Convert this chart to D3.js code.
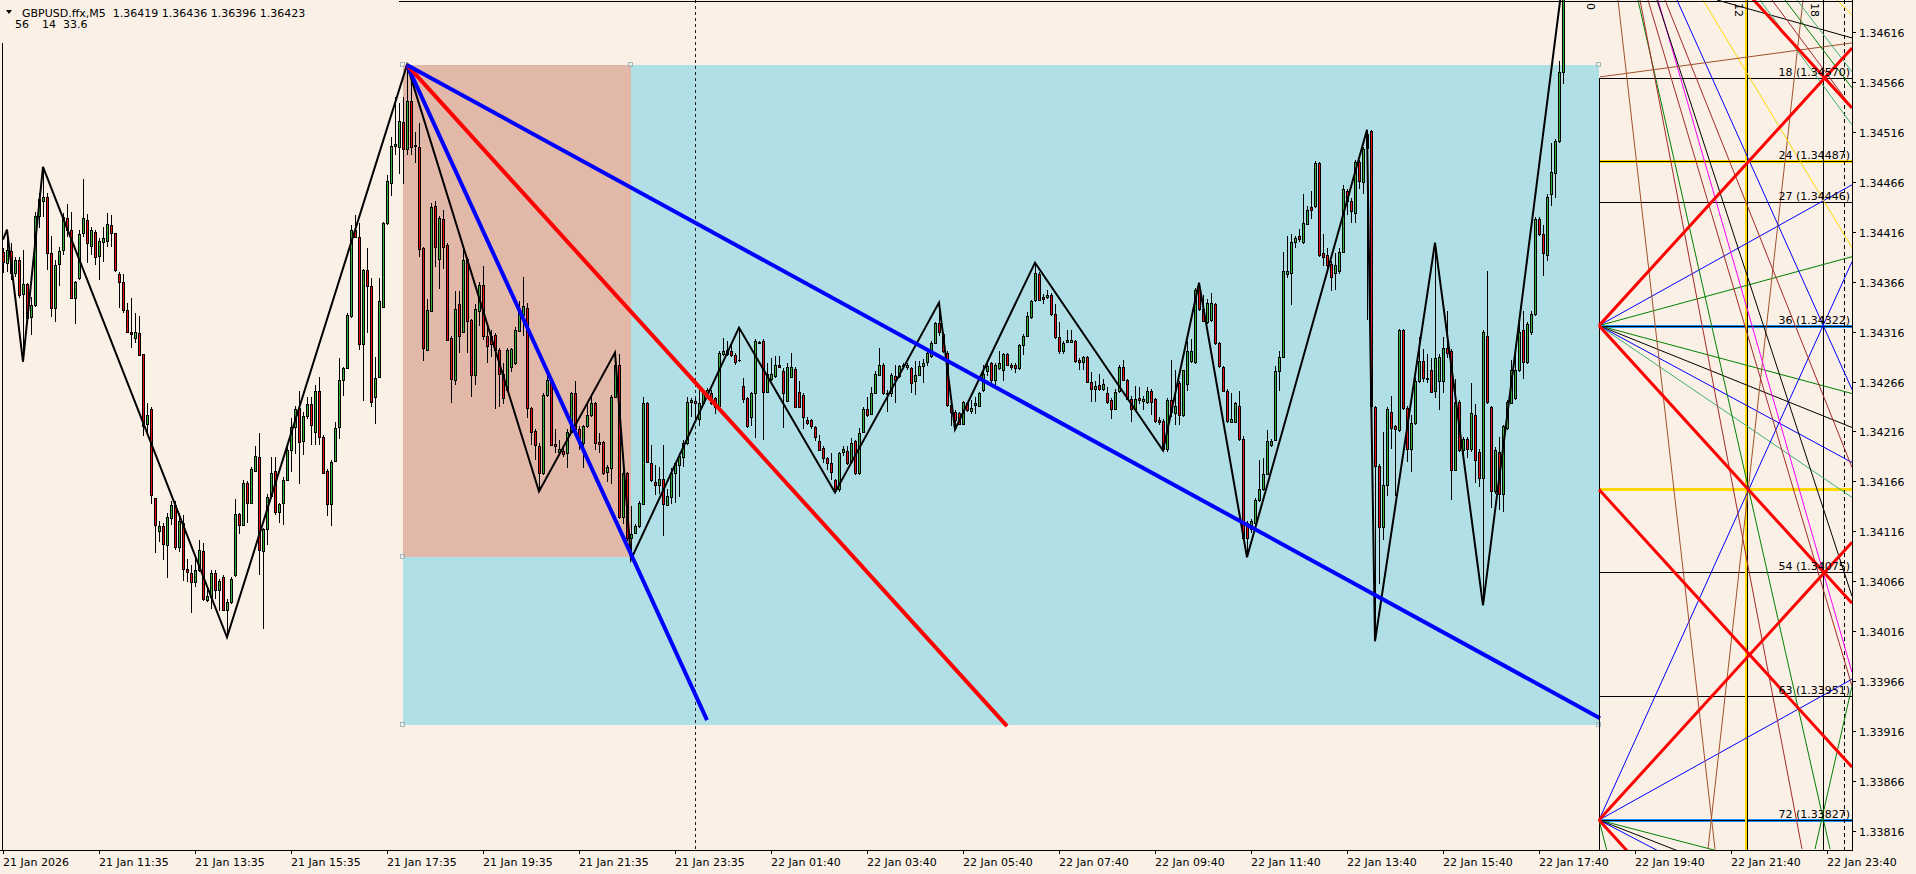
<!DOCTYPE html>
<html><head><meta charset="utf-8">
<script src="https://cdn.jsdelivr.net/npm/d3@7"></script>
<style>html,body{margin:0;padding:0;background:#FAF0E6;overflow:hidden}svg{display:block}</style>
</head><body><svg id="c" width="1916" height="874"></svg>
<script>
// ---------- DATA ----------
const opens=[1.34396,1.34385,1.34397,1.34375,1.34388,1.34354,1.34364,1.34331,1.34343,1.34432,1.34447,1.34451,1.34395,1.34340,1.34384,1.34398,1.34430,1.34418,1.34350,1.34370,1.34415,1.34428,1.34402,1.34416,1.34392,1.34406,1.34407,1.34423,1.34415,1.34374,1.34366,1.34338,1.34316,1.34310,1.34315,1.34294,1.34224,1.34239,1.34149,1.34116,1.34121,1.34102,1.34129,1.34142,1.34100,1.34124,1.34078,1.34074,1.34065,1.34077,1.34096,1.34047,1.34050,1.34074,1.34057,1.34070,1.34037,1.34045,1.34072,1.34133,1.34122,1.34164,1.34144,1.34176,1.34190,1.34096,1.34118,1.34151,1.34176,1.34135,1.34144,1.34167,1.34197,1.34220,1.34240,1.34206,1.34232,1.34244,1.34215,1.34257,1.34210,1.34176,1.34143,1.34186,1.34220,1.34268,1.34280,1.34332,1.34418,1.34411,1.34304,1.34378,1.34362,1.34251,1.34271,1.34341,1.34425,1.34465,1.34502,1.34501,1.34526,1.34499,1.34547,1.34503,1.34501,1.34400,1.34298,1.34337,1.34442,1.34389,1.34429,1.34403,1.34310,1.34268,1.34344,1.34316,1.34389,1.34328,1.34273,1.34337,1.34363,1.34312,1.34312,1.34313,1.34298,1.34274,1.34258,1.34281,1.34285,1.34317,1.34333,1.34340,1.34240,1.34216,1.34201,1.34174,1.34253,1.34268,1.34203,1.34195,1.34196,1.34194,1.34215,1.34255,1.34218,1.34204,1.34221,1.34233,1.34245,1.34205,1.34205,1.34175,1.34179,1.34251,1.34283,1.34130,1.34174,1.34109,1.34114,1.34121,1.34143,1.34245,1.34184,1.34165,1.34162,1.34168,1.34142,1.34150,1.34174,1.34182,1.34190,1.34204,1.34246,1.34247,1.34229,1.34245,1.34251,1.34255,1.34250,1.34242,1.34294,1.34294,1.34297,1.34293,1.34288,1.34262,1.34250,1.34231,1.34255,1.34305,1.34307,1.34256,1.34269,1.34272,1.34283,1.34277,1.34247,1.34271,1.34279,1.34256,1.34253,1.34228,1.34228,1.34220,1.34206,1.34199,1.34189,1.34184,1.34167,1.34158,1.34195,1.34196,1.34185,1.34206,1.34174,1.34215,1.34239,1.34234,1.34255,1.34273,1.34283,1.34255,1.34255,1.34272,1.34272,1.34282,1.34281,1.34280,1.34267,1.34273,1.34282,1.34286,1.34292,1.34305,1.34325,1.34314,1.34295,1.34243,1.34236,1.34235,1.34224,1.34245,1.34237,1.34243,1.34242,1.34258,1.34277,1.34285,1.34268,1.34280,1.34278,1.34294,1.34283,1.34283,1.34280,1.34303,1.34312,1.34331,1.34348,1.34374,1.34351,1.34351,1.34353,1.34334,1.34311,1.34297,1.34306,1.34306,1.34307,1.34288,1.34286,1.34291,1.34266,1.34259,1.34263,1.34259,1.34255,1.34248,1.34239,1.34257,1.34281,1.34268,1.34249,1.34239,1.34250,1.34247,1.34246,1.34257,1.34249,1.34228,1.34227,1.34198,1.34248,1.34235,1.34265,1.34233,1.34264,1.34287,1.34286,1.34360,1.34339,1.34326,1.34328,1.34344,1.34305,1.34281,1.34257,1.34226,1.34226,1.34242,1.34208,1.34124,1.34118,1.34124,1.34147,1.34158,1.34173,1.34202,1.34207,1.34277,1.34291,1.34374,1.34375,1.34406,1.34412,1.34406,1.34424,1.34441,1.34442,1.34485,1.34395,1.34393,1.34384,1.34375,1.34377,1.34396,1.34457,1.34447,1.34435,1.34486,1.34466,1.34500,1.34517,1.34241,1.34181,1.34120,1.34162,1.34236,1.34221,1.34217,1.34318,1.34240,1.34198,1.34225,1.34267,1.34287,1.34270,1.34278,1.34257,1.34267,1.34267,1.34300,1.34297,1.34177,1.34246,1.34197,1.34208,1.34198,1.34233,1.34195,1.34169,1.34312,1.34241,1.34156,1.34195,1.34153,1.34219,1.34245,1.34250,1.34278,1.34318,1.34286,1.34316,1.34334,1.34429,1.34414,1.34393,1.34454,1.34475,1.34507,1.34576];
const highs=[1.34400,1.34418,1.34405,1.34391,1.34391,1.34398,1.34365,1.34351,1.34436,1.34455,1.34481,1.34455,1.34412,1.34388,1.34401,1.34435,1.34444,1.34436,1.34367,1.34418,1.34469,1.34434,1.34421,1.34418,1.34410,1.34421,1.34435,1.34433,1.34415,1.34376,1.34374,1.34345,1.34350,1.34335,1.34332,1.34294,1.34245,1.34241,1.34149,1.34126,1.34124,1.34134,1.34146,1.34146,1.34134,1.34132,1.34088,1.34082,1.34090,1.34107,1.34104,1.34061,1.34077,1.34077,1.34068,1.34072,1.34048,1.34070,1.34148,1.34134,1.34167,1.34166,1.34180,1.34201,1.34214,1.34119,1.34153,1.34190,1.34190,1.34144,1.34170,1.34203,1.34230,1.34242,1.34257,1.34236,1.34251,1.34251,1.34263,1.34271,1.34212,1.34178,1.34187,1.34226,1.34290,1.34281,1.34335,1.34423,1.34433,1.34425,1.34379,1.34400,1.34370,1.34291,1.34370,1.34426,1.34473,1.34511,1.34551,1.34545,1.34551,1.34583,1.34581,1.34516,1.34525,1.34401,1.34349,1.34445,1.34447,1.34432,1.34438,1.34405,1.34312,1.34357,1.34357,1.34400,1.34391,1.34329,1.34344,1.34366,1.34382,1.34325,1.34318,1.34315,1.34300,1.34285,1.34300,1.34300,1.34321,1.34347,1.34371,1.34345,1.34241,1.34218,1.34204,1.34255,1.34275,1.34268,1.34218,1.34207,1.34199,1.34218,1.34256,1.34267,1.34221,1.34223,1.34245,1.34253,1.34246,1.34214,1.34206,1.34182,1.34253,1.34295,1.34294,1.34184,1.34175,1.34141,1.34123,1.34146,1.34251,1.34246,1.34202,1.34182,1.34180,1.34202,1.34158,1.34179,1.34185,1.34194,1.34207,1.34251,1.34250,1.34250,1.34258,1.34258,1.34260,1.34258,1.34251,1.34297,1.34310,1.34307,1.34304,1.34295,1.34320,1.34270,1.34251,1.34256,1.34309,1.34307,1.34309,1.34285,1.34290,1.34292,1.34292,1.34280,1.34285,1.34295,1.34281,1.34267,1.34255,1.34231,1.34229,1.34221,1.34212,1.34201,1.34190,1.34194,1.34168,1.34195,1.34201,1.34201,1.34209,1.34207,1.34219,1.34241,1.34251,1.34261,1.34277,1.34300,1.34285,1.34258,1.34275,1.34283,1.34283,1.34285,1.34285,1.34281,1.34287,1.34287,1.34289,1.34297,1.34307,1.34326,1.34345,1.34316,1.34297,1.34245,1.34238,1.34236,1.34247,1.34246,1.34248,1.34251,1.34256,1.34283,1.34285,1.34286,1.34285,1.34297,1.34295,1.34295,1.34285,1.34285,1.34304,1.34314,1.34336,1.34348,1.34385,1.34376,1.34354,1.34358,1.34355,1.34344,1.34326,1.34307,1.34318,1.34318,1.34308,1.34290,1.34292,1.34292,1.34276,1.34267,1.34274,1.34269,1.34261,1.34250,1.34259,1.34283,1.34288,1.34269,1.34252,1.34262,1.34261,1.34252,1.34261,1.34259,1.34250,1.34231,1.34229,1.34250,1.34288,1.34278,1.34267,1.34278,1.34307,1.34309,1.34360,1.34365,1.34353,1.34349,1.34355,1.34345,1.34306,1.34282,1.34259,1.34255,1.34246,1.34257,1.34211,1.34126,1.34128,1.34149,1.34187,1.34189,1.34217,1.34208,1.34282,1.34297,1.34396,1.34412,1.34414,1.34412,1.34419,1.34454,1.34442,1.34457,1.34487,1.34486,1.34414,1.34400,1.34387,1.34395,1.34400,1.34463,1.34459,1.34450,1.34488,1.34488,1.34501,1.34518,1.34518,1.34242,1.34183,1.34215,1.34241,1.34252,1.34223,1.34319,1.34319,1.34242,1.34233,1.34270,1.34311,1.34299,1.34294,1.34290,1.34405,1.34294,1.34311,1.34337,1.34299,1.34269,1.34248,1.34210,1.34210,1.34265,1.34244,1.34198,1.34318,1.34377,1.34242,1.34200,1.34210,1.34223,1.34248,1.34288,1.34294,1.34324,1.34337,1.34326,1.34337,1.34431,1.34431,1.34423,1.34454,1.34505,1.34509,1.34587,1.34670];
const lows=[1.34375,1.34376,1.34368,1.34371,1.34350,1.34286,1.34325,1.34313,1.34341,1.34420,1.34431,1.34378,1.34331,1.34326,1.34362,1.34393,1.34411,1.34349,1.34324,1.34368,1.34411,1.34385,1.34393,1.34383,1.34368,1.34386,1.34401,1.34401,1.34376,1.34340,1.34335,1.34315,1.34300,1.34305,1.34292,1.34211,1.34213,1.34143,1.34094,1.34105,1.34087,1.34069,1.34122,1.34097,1.34095,1.34066,1.34065,1.34034,1.34060,1.34075,1.34046,1.34045,1.34038,1.34048,1.34036,1.34036,1.34010,1.34043,1.34070,1.34113,1.34121,1.34124,1.34143,1.34176,1.34072,1.34018,1.34102,1.34150,1.34132,1.34124,1.34122,1.34166,1.34175,1.34193,1.34163,1.34192,1.34229,1.34202,1.34202,1.34202,1.34173,1.34131,1.34121,1.34185,1.34208,1.34252,1.34280,1.34330,1.34410,1.34298,1.34247,1.34315,1.34241,1.34224,1.34270,1.34340,1.34423,1.34452,1.34493,1.34474,1.34464,1.34493,1.34493,1.34485,1.34391,1.34287,1.34298,1.34337,1.34381,1.34359,1.34379,1.34307,1.34245,1.34263,1.34295,1.34315,1.34295,1.34251,1.34263,1.34322,1.34308,1.34285,1.34291,1.34239,1.34241,1.34244,1.34256,1.34276,1.34283,1.34316,1.34312,1.34230,1.34202,1.34187,1.34156,1.34172,1.34251,1.34201,1.34194,1.34194,1.34190,1.34179,1.34214,1.34215,1.34197,1.34179,1.34219,1.34231,1.34197,1.34194,1.34172,1.34165,1.34163,1.34250,1.34128,1.34123,1.34106,1.34088,1.34113,1.34119,1.34142,1.34184,1.34165,1.34152,1.34153,1.34111,1.34141,1.34143,1.34144,1.34150,1.34180,1.34202,1.34231,1.34229,1.34221,1.34243,1.34250,1.34243,1.34234,1.34241,1.34292,1.34292,1.34291,1.34283,1.34286,1.34245,1.34219,1.34221,1.34209,1.34304,1.34207,1.34255,1.34267,1.34270,1.34280,1.34219,1.34246,1.34270,1.34240,1.34240,1.34218,1.34223,1.34218,1.34206,1.34196,1.34184,1.34177,1.34167,1.34155,1.34155,1.34191,1.34182,1.34184,1.34172,1.34172,1.34214,1.34231,1.34233,1.34254,1.34272,1.34253,1.34236,1.34251,1.34245,1.34270,1.34281,1.34278,1.34255,1.34253,1.34272,1.34265,1.34282,1.34290,1.34304,1.34312,1.34295,1.34241,1.34221,1.34218,1.34223,1.34223,1.34236,1.34234,1.34234,1.34241,1.34256,1.34272,1.34265,1.34262,1.34278,1.34267,1.34282,1.34278,1.34275,1.34278,1.34293,1.34311,1.34329,1.34346,1.34347,1.34344,1.34349,1.34332,1.34309,1.34294,1.34294,1.34305,1.34305,1.34285,1.34278,1.34278,1.34265,1.34246,1.34246,1.34257,1.34257,1.34244,1.34229,1.34238,1.34255,1.34267,1.34248,1.34226,1.34238,1.34244,1.34238,1.34244,1.34233,1.34225,1.34223,1.34197,1.34195,1.34231,1.34223,1.34223,1.34231,1.34257,1.34285,1.34284,1.34337,1.34326,1.34324,1.34326,1.34303,1.34280,1.34257,1.34225,1.34225,1.34225,1.34206,1.34107,1.34090,1.34114,1.34122,1.34145,1.34156,1.34172,1.34200,1.34206,1.34257,1.34290,1.34370,1.34343,1.34400,1.34406,1.34404,1.34423,1.34429,1.34440,1.34391,1.34382,1.34379,1.34357,1.34358,1.34374,1.34395,1.34433,1.34425,1.34425,1.34459,1.34454,1.34328,1.34198,1.34006,1.34063,1.34107,1.34151,1.34198,1.34151,1.34215,1.34238,1.34185,1.34175,1.34223,1.34265,1.34266,1.34265,1.34255,1.34250,1.34238,1.34255,1.34290,1.34147,1.34177,1.34195,1.34193,1.34189,1.34195,1.34164,1.34160,1.34042,1.34244,1.34139,1.34153,1.34137,1.34135,1.34217,1.34244,1.34248,1.34276,1.34269,1.34284,1.34313,1.34332,1.34412,1.34372,1.34387,1.34442,1.34450,1.34505,1.34564];
const closes=[1.34386,1.34398,1.34375,1.34388,1.34353,1.34364,1.34330,1.34343,1.34432,1.34449,1.34451,1.34395,1.34340,1.34383,1.34397,1.34431,1.34418,1.34350,1.34366,1.34414,1.34430,1.34405,1.34418,1.34391,1.34407,1.34410,1.34424,1.34415,1.34378,1.34366,1.34338,1.34316,1.34314,1.34316,1.34293,1.34221,1.34233,1.34152,1.34122,1.34121,1.34103,1.34130,1.34142,1.34100,1.34126,1.34078,1.34075,1.34065,1.34077,1.34097,1.34048,1.34051,1.34074,1.34057,1.34066,1.34037,1.34045,1.34068,1.34133,1.34122,1.34164,1.34144,1.34178,1.34191,1.34097,1.34118,1.34150,1.34174,1.34135,1.34143,1.34167,1.34197,1.34220,1.34239,1.34205,1.34232,1.34244,1.34222,1.34257,1.34210,1.34174,1.34143,1.34185,1.34219,1.34268,1.34280,1.34333,1.34418,1.34411,1.34304,1.34378,1.34362,1.34246,1.34270,1.34347,1.34425,1.34467,1.34502,1.34504,1.34527,1.34499,1.34547,1.34501,1.34502,1.34399,1.34300,1.34338,1.34441,1.34401,1.34430,1.34401,1.34308,1.34269,1.34339,1.34312,1.34388,1.34327,1.34273,1.34339,1.34363,1.34312,1.34302,1.34304,1.34298,1.34274,1.34250,1.34298,1.34299,1.34318,1.34338,1.34342,1.34240,1.34215,1.34202,1.34174,1.34253,1.34268,1.34202,1.34201,1.34198,1.34193,1.34215,1.34255,1.34218,1.34204,1.34221,1.34233,1.34245,1.34204,1.34203,1.34174,1.34180,1.34251,1.34283,1.34130,1.34174,1.34109,1.34113,1.34121,1.34144,1.34245,1.34185,1.34167,1.34162,1.34168,1.34143,1.34151,1.34174,1.34184,1.34191,1.34204,1.34246,1.34248,1.34245,1.34245,1.34256,1.34258,1.34245,1.34241,1.34295,1.34297,1.34298,1.34293,1.34286,1.34288,1.34249,1.34221,1.34255,1.34307,1.34306,1.34256,1.34274,1.34274,1.34283,1.34281,1.34255,1.34281,1.34281,1.34241,1.34241,1.34231,1.34225,1.34221,1.34210,1.34197,1.34189,1.34184,1.34175,1.34158,1.34194,1.34198,1.34184,1.34204,1.34174,1.34214,1.34239,1.34233,1.34255,1.34274,1.34283,1.34255,1.34254,1.34273,1.34268,1.34282,1.34283,1.34283,1.34265,1.34273,1.34282,1.34285,1.34295,1.34305,1.34325,1.34316,1.34297,1.34243,1.34236,1.34228,1.34224,1.34246,1.34238,1.34240,1.34245,1.34255,1.34274,1.34282,1.34268,1.34283,1.34285,1.34294,1.34283,1.34281,1.34280,1.34303,1.34312,1.34332,1.34347,1.34375,1.34348,1.34349,1.34353,1.34334,1.34311,1.34297,1.34305,1.34308,1.34308,1.34287,1.34286,1.34291,1.34266,1.34259,1.34262,1.34259,1.34264,1.34246,1.34239,1.34256,1.34281,1.34268,1.34249,1.34239,1.34249,1.34248,1.34249,1.34257,1.34246,1.34227,1.34226,1.34198,1.34248,1.34236,1.34242,1.34233,1.34278,1.34297,1.34297,1.34358,1.34339,1.34327,1.34345,1.34345,1.34305,1.34282,1.34257,1.34227,1.34229,1.34245,1.34208,1.34109,1.34109,1.34126,1.34147,1.34158,1.34173,1.34206,1.34206,1.34277,1.34291,1.34377,1.34377,1.34406,1.34410,1.34409,1.34425,1.34438,1.34438,1.34485,1.34393,1.34391,1.34383,1.34371,1.34383,1.34396,1.34459,1.34447,1.34437,1.34486,1.34467,1.34499,1.34514,1.34242,1.34181,1.34120,1.34162,1.34239,1.34219,1.34218,1.34318,1.34240,1.34198,1.34225,1.34267,1.34287,1.34270,1.34269,1.34256,1.34290,1.34291,1.34300,1.34295,1.34177,1.34246,1.34197,1.34208,1.34198,1.34235,1.34187,1.34169,1.34316,1.34246,1.34156,1.34197,1.34153,1.34221,1.34246,1.34278,1.34278,1.34316,1.34286,1.34324,1.34334,1.34429,1.34414,1.34395,1.34451,1.34476,1.34507,1.34576,1.34655];

// ZigZag vertices (bar index, price)
const zzIdx=[0,1,5,10,56,101,134,153,157,184,208,234,238,258,290,299,311,341,343,358,370,390];
const zzPrice=[1.34408,1.34418,1.34286,1.34481,1.34010,1.34583,1.34156,1.34295,1.34088,1.34320,1.34155,1.34345,1.34218,1.34385,1.34197,1.34365,1.34090,1.34518,1.34006,1.34405,1.34042,1.34670];

// Time axis ticks
const timeTickIdx=[0,24,48,72,96,120,144,168,192,216,240,264,288,312,336,360,384,408,432,456];
const timeTickLabels=["21 Jan 2026","21 Jan 11:35","21 Jan 13:35","21 Jan 15:35","21 Jan 17:35","21 Jan 19:35","21 Jan 21:35","21 Jan 23:35","22 Jan 01:40","22 Jan 03:40","22 Jan 05:40","22 Jan 07:40","22 Jan 09:40","22 Jan 11:40","22 Jan 13:40","22 Jan 15:40","22 Jan 17:40","22 Jan 19:40","22 Jan 21:40","22 Jan 23:40"];
// Price axis ticks
const priceTicks=[1.34616,1.34566,1.34516,1.34466,1.34416,1.34366,1.34316,1.34266,1.34216,1.34166,1.34116,1.34066,1.34016,1.33966,1.33916,1.33866,1.33816];

// Rectangles [t1,p1,t2,p2]
const rectBlue=[100,1.34583,399,1.33922];
const rectSalmon=[100,1.34583,157,1.34090];
// Fan from the swing high
const fanFrom=[101,1.34583];
const fanTo=[[176,1.33927],[251,1.33921],[399.25,1.33929]];
const fanKinds=["blue","red","blue"];
// Vertical dashed line (bar)
const crossBar=173;

// Right-hand grid (future area)
const gridStart=399, gridEnd=462.25;
const gridLevels=[1.34570,1.34487,1.34446,1.34322,1.34158,1.34075,1.33951,1.33827];
const gridLabels=["18 (1.34570)","24 (1.34487)","27 (1.34446)","36 (1.34322)","","54 (1.34075)","63 (1.33951)","72 (1.33827)"];
const gridKinds=["black","gold","black","blue","goldOnly","black","black","blue"];
const gridVerticals=[399,436,455,460.25];
const gridVertKinds=["black","gold","black","dash"];
const gridVertLabels=["0","12","18",""];
// thick 1x1 angle lines [i1,p1,i2,p2]
const redAngles=[[399,1.34322,462.25,1.34600],[399,1.34322,462.25,1.34044],[399,1.34158,462.25,1.33880],[399,1.33827,462.25,1.34105],[399,1.33827,462.25,1.33549],[399,1.34818,462.25,1.34540]];
// thin lines [i1,p1,i2,p2]
const thinLines=[
 [399,1.34322,462.25,1.34463],[399,1.34322,462.25,1.34391],[399,1.34322,462.25,1.34254],[399,1.34322,462.25,1.34220],[399,1.34322,462.25,1.34185],[399,1.34322,462.25,1.34150],
 [399,1.33827,462.25,1.34386],[399,1.33827,462.25,1.33968],[399,1.33827,462.25,1.33761],[399,1.33827,462.25,1.33728],[399,1.33827,462.25,1.33695],[399,1.33827,404.25,1.33745],
 [403.75,1.34648,428,1.33798],[450,1.34648,426.25,1.33798],[408.75,1.34648,456.75,1.33798],[453,1.33798,462.25,1.33961],
 [409.25,1.34648,449.75,1.33798],[415.5,1.34648,462.25,1.34180],[411.25,1.34648,462.25,1.33961],[413.75,1.34648,462.25,1.33975],
 [413.5,1.34648,462.25,1.34051],[418.5,1.34648,462.25,1.34258],[425,1.34648,462.25,1.34400],[428.5,1.34648,462.25,1.34610],[458.5,1.34648,462.25,1.34633],
 [399.25,1.34571,462.25,1.34605],[439.25,1.34648,462.25,1.34523],[442.25,1.34648,462.25,1.34540],[445.5,1.34648,462.25,1.34560],[448.5,1.34648,462.25,1.34576]
];
const thinKinds=["blue","green","green","black","blue","seagreen","blue","blue","green","black","blue","green",
 "sienna","sienna","green","green","brown","brown","brown","magenta","black","blue","gold","black","gold","sienna","seagreen","brown","green","seagreen"];

// ---------- STYLE ----------
const COL={blue:"#0000FF",red:"#FF0000",green:"#008000",seagreen:"#3CB371",black:"#000000",sienna:"#A0522D",brown:"#A52A2A",magenta:"#FF00FF",gold:"#FFD700",dodger:"#1E90FF"};
const BG="#FAF0E6", BLUEBOX="#B0E0E6", SALMON="#E2B8A8", UP="#35B035", DN="#E81010";
const FONT="DejaVu Sans";

// ---------- SCALES ----------
const plotL=2, plotR=1852, plotB=850;
const x=d3.scaleLinear().domain([0,462.25]).range([3,plotR]);
const y=d3.scaleLinear().domain([1.33797,1.34648]).range([plotB,0]);

const svg=d3.select("#c");
svg.append("rect").attr("width",1916).attr("height",874).attr("fill",BG);
svg.append("defs").append("clipPath").attr("id","clip").append("rect").attr("x",plotL).attr("y",0).attr("width",plotR-plotL).attr("height",plotB);
const g=svg.append("g").attr("clip-path","url(#clip)");

// rectangles
function rectOf(r){return {x:x(r[0]),y:y(r[1]),w:x(r[2])-x(r[0]),h:y(r[3])-y(r[1])};}
[[rectBlue,BLUEBOX],[rectSalmon,SALMON]].forEach(([r,c])=>{const o=rectOf(r);
 g.append("rect").attr("x",Math.round(o.x)).attr("y",Math.round(o.y)).attr("width",Math.round(o.w)).attr("height",Math.round(o.h)).attr("fill",c);});

// dashed vertical
g.append("line").attr("x1",Math.round(x(crossBar))+0.5).attr("x2",Math.round(x(crossBar))+0.5).attr("y1",0).attr("y2",plotB)
 .attr("stroke","#202020").attr("stroke-width",1).attr("stroke-dasharray","3,3");

// candles
const bars=closes.map((c,i)=>({i,o:opens[i],h:highs[i],l:lows[i],c}));
const cg=g.append("g").attr("shape-rendering","crispEdges");
bars.forEach(b=>{
 const cx=Math.round(x(b.i));
 const yh=Math.round(y(b.h)), yl=Math.round(y(b.l));
 cg.append("rect").attr("x",cx).attr("y",yh).attr("width",1).attr("height",Math.max(1,yl-yh)).attr("fill","#000");
 const yt=Math.round(y(Math.max(b.o,b.c))), yb=Math.round(y(Math.min(b.o,b.c)));
 const hh=Math.max(1,yb-yt+1);
 cg.append("rect").attr("x",cx-1).attr("y",yt).attr("width",3).attr("height",hh).attr("fill","#000");
 if(hh>2) cg.append("rect").attr("x",cx).attr("y",yt+1).attr("width",1).attr("height",hh-2).attr("fill",b.c>=b.o?UP:DN);
});

// zigzag
const zz=zzIdx.map((d,k)=>[x(d),y(zzPrice[k])]);
g.append("path").attr("d",d3.line()(zz)).attr("fill","none").attr("stroke","#000").attr("stroke-width",2).attr("stroke-linejoin","miter");

// fan lines
fanTo.forEach((e,k)=>{
 g.append("line").attr("x1",x(fanFrom[0])).attr("y1",y(fanFrom[1])).attr("x2",x(e[0])).attr("y2",y(e[1]))
  .attr("stroke",COL[fanKinds[k]]).attr("stroke-width",4).attr("stroke-linecap","butt");
});

// handles
const handles=[[rectBlue[0],rectBlue[1]],[rectSalmon[2],rectSalmon[1]],[rectSalmon[0],rectSalmon[3]],[rectBlue[0],rectBlue[3]],[rectBlue[2],rectBlue[1]],[rectBlue[2],rectBlue[3]]];
handles.forEach(h=>{g.append("rect").attr("x",Math.round(x(h[0]))-2.5).attr("y",Math.round(y(h[1]))-2.5).attr("width",4).attr("height",4)
 .attr("fill","none").attr("stroke","#9fb7bf").attr("stroke-width",1);});

// ----- right grid -----
const rg=g.append("g");
// horizontal levels
gridLevels.forEach((p,k)=>{
 const yy=Math.round(y(p))+0.5, kd=gridKinds[k];
 if(kd==="gold"||kd==="goldOnly") rg.append("line").attr("x1",x(gridStart)).attr("x2",x(gridEnd)).attr("y1",yy).attr("y2",yy).attr("stroke",COL.gold).attr("stroke-width",3);
 if(kd==="blue") rg.append("line").attr("x1",x(gridStart)).attr("x2",x(gridEnd)).attr("y1",yy).attr("y2",yy).attr("stroke",COL.dodger).attr("stroke-width",3);
 if(kd!=="goldOnly") rg.append("line").attr("x1",x(gridStart)).attr("x2",x(gridEnd)).attr("y1",yy).attr("y2",yy).attr("stroke","#000").attr("stroke-width",1);
});
// verticals
gridVerticals.forEach((v,k)=>{
 const xx=Math.round(x(v))+0.5, kd=gridVertKinds[k];
 const top = k===0 ? y(gridLevels[0]) : 0;
 if(kd==="gold") rg.append("line").attr("x1",xx-1).attr("x2",xx-1).attr("y1",0).attr("y2",plotB).attr("stroke",COL.gold).attr("stroke-width",3);
 const ln=rg.append("line").attr("x1",xx).attr("x2",xx).attr("y1",top).attr("y2",plotB).attr("stroke","#000").attr("stroke-width",1);
 if(kd==="dash") ln.attr("stroke-dasharray","4,3");
});
// thin lines
thinLines.forEach((l,k)=>{
 rg.append("line").attr("x1",x(l[0])).attr("y1",y(l[1])).attr("x2",x(l[2])).attr("y2",y(l[3])).attr("stroke",COL[thinKinds[k]]).attr("stroke-width",1);
});
// thick red
redAngles.forEach(l=>{
 rg.append("line").attr("x1",x(l[0])).attr("y1",y(l[1])).attr("x2",x(l[2])).attr("y2",y(l[3])).attr("stroke",COL.red).attr("stroke-width",3);
});
// level labels
gridLevels.forEach((p,k)=>{
 if(!gridLabels[k]) return;
 rg.append("text").attr("x",plotR-2).attr("y",Math.round(y(p))-2).attr("text-anchor","end").attr("font-family",FONT).attr("font-size",11).attr("fill","#000").text(gridLabels[k]);
});
// vertical line labels (rotated)
gridVerticals.forEach((v,k)=>{
 if(!gridVertLabels[k]) return;
 const xx=Math.round(x(v))-12;
 rg.append("text").attr("transform",`translate(${xx},3) rotate(90)`).attr("font-family",FONT).attr("font-size",11).attr("fill","#000").text(gridVertLabels[k]);
});

// ---------- AXES ----------
const ax=svg.append("g").attr("shape-rendering","crispEdges");
ax.append("line").attr("x1",0).attr("x2",plotR+0.5).attr("y1",plotB+0.5).attr("y2",plotB+0.5).attr("stroke","#000");
ax.append("line").attr("x1",plotR+0.5).attr("x2",plotR+0.5).attr("y1",0).attr("y2",plotB+0.5).attr("stroke","#000");
// chart frame
ax.append("line").attr("x1",2.5).attr("x2",2.5).attr("y1",43).attr("y2",plotB).attr("stroke","#000");
ax.append("line").attr("x1",399).attr("x2",plotR).attr("y1",1.5).attr("y2",1.5).attr("stroke","#000");

timeTickIdx.forEach((t,k)=>{
 const xx=Math.round(x(t))+0.5;
 ax.append("line").attr("x1",xx).attr("x2",xx).attr("y1",plotB).attr("y2",plotB+4).attr("stroke","#000");
 svg.append("text").attr("x",xx-0.5).attr("y",866).attr("font-family",FONT).attr("font-size",11).attr("fill","#000").text(timeTickLabels[k]);
});
priceTicks.forEach(p=>{
 const yy=Math.round(y(p))+0.5;
 ax.append("line").attr("x1",plotR).attr("x2",plotR+4).attr("y1",yy).attr("y2",yy).attr("stroke","#000");
 svg.append("text").attr("x",plotR+7).attr("y",yy+4).attr("font-family",FONT).attr("font-size",11).attr("fill","#000").text(p.toFixed(5));
});

// header
svg.append("path").attr("d","M6,10 L12,10 L9,14 Z").attr("fill","#000");
svg.append("text").attr("x",22).attr("y",17).attr("font-family",FONT).attr("font-size",11).attr("fill","#000").attr("xml:space","preserve").style("white-space","pre")
 .text("GBPUSD.ffx,M5  1.36419 1.36436 1.36396 1.36423");
[["56",15],["14",42],["33.6",63]].forEach(([t,xx])=>svg.append("text").attr("x",xx).attr("y",28).attr("font-family",FONT).attr("font-size",11).attr("fill","#000").text(t));
</script>
</body></html>
